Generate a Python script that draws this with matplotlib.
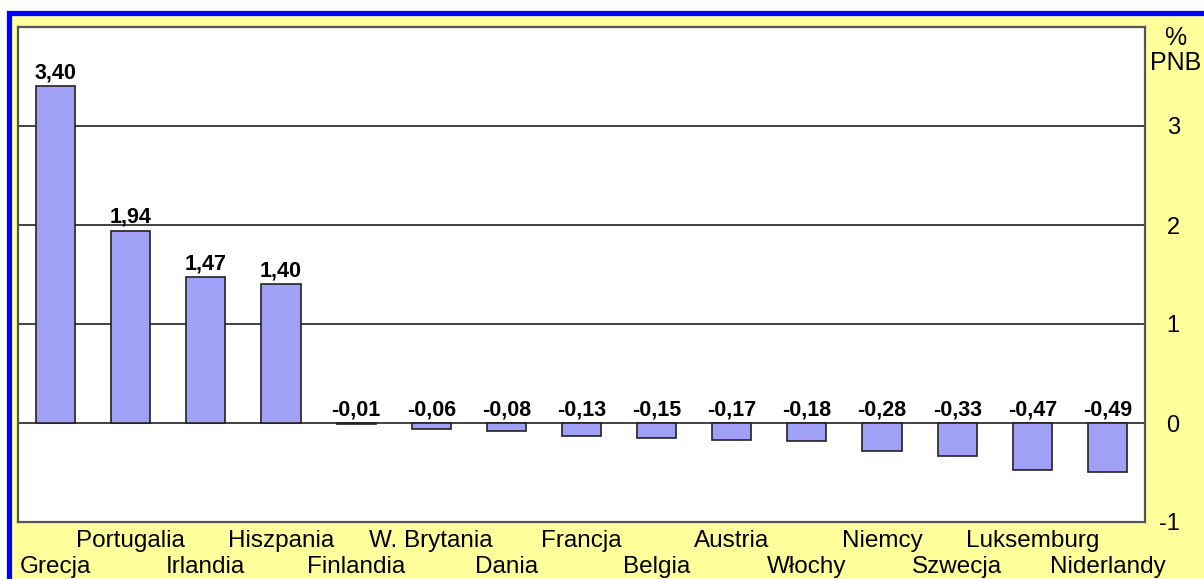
import matplotlib
matplotlib.use("Agg")
import matplotlib.pyplot as plt
from matplotlib.patches import Rectangle
from matplotlib.transforms import blended_transform_factory

plt.rcParams['font.family'] = ['Liberation Sans', 'DejaVu Sans']

# saldo netto w % PNB
kraje = ['Grecja', 'Portugalia', 'Irlandia', 'Hiszpania', 'Finlandia',
         'W. Brytania', 'Dania', 'Francja', 'Belgia', 'Austria',
         'Włochy', 'Niemcy', 'Szwecja', 'Luksemburg', 'Niderlandy']
saldo = [3.40, 1.94, 1.47, 1.40, -0.01, -0.06, -0.08, -0.13, -0.15,
         -0.17, -0.18, -0.28, -0.33, -0.47, -0.49]
y_ticks = [-1, 0, 1, 2, 3]

W, H = 1204, 579
fig = plt.figure(figsize=(W / 100, H / 100), dpi=100)
fig.patch.set_facecolor('white')

# żółte tło z niebieską ramką
fig.patches.append(Rectangle((8.5 / W, -0.5), 2, 1.5 - 12.5 / H,
                             transform=fig.transFigure, facecolor='#ffff9c',
                             edgecolor='#0000ff', linewidth=3.8, zorder=-5))

ax = fig.add_axes([18 / W, 1 - 522 / H, (1145 - 18) / W, (522 - 27) / H])
ax.set_zorder(1)
ax.set_facecolor('white')

x = list(range(len(kraje)))
ax.bar(x, saldo, width=0.52, color='#a0a0f6', edgecolor='#222222',
       linewidth=1.2, zorder=3)

ax.set_xlim(-0.5, len(kraje) - 0.5)
ax.set_ylim(-1, 4)

for y in [0, 1, 2, 3]:
    ax.axhline(y, color='#333333', linewidth=1.3, zorder=2)

for i, v in enumerate(saldo):
    txt = f'{v:.2f}'.replace('.', ',')
    ypos = v if v > 0 else 0
    ax.text(i, ypos + 0.03, txt, ha='center', va='bottom', fontsize=15.5,
            fontweight='bold', zorder=4)

# nazwy krajów w dwóch rzędach
ax.set_xticks(x)
ax.set_xticklabels([])
ax.tick_params(axis='x', length=0)
tr = blended_transform_factory(ax.transData, fig.transFigure)
for i, k in enumerate(kraje):
    yrow = 541 if i % 2 else 567
    ax.text(i, 1 - yrow / H, k, transform=tr, ha='center', va='center',
            fontsize=17.5, clip_on=False)

ax.yaxis.tick_right()
ax.set_yticks(y_ticks)
ax.set_yticklabels([str(t) for t in y_ticks], fontsize=17, ha='right')
ax.tick_params(axis='y', length=0, pad=25)

for s in ax.spines.values():
    s.set_color('#555555')
    s.set_linewidth(1.6)

fig.text(1175 / W, 1 - 38 / H, '%', ha='center', va='center', fontsize=18)
fig.text(1176 / W, 1 - 63 / H, 'PNB', ha='center', va='center', fontsize=18)

fig.savefig('out.png', dpi=100, facecolor=fig.get_facecolor())
